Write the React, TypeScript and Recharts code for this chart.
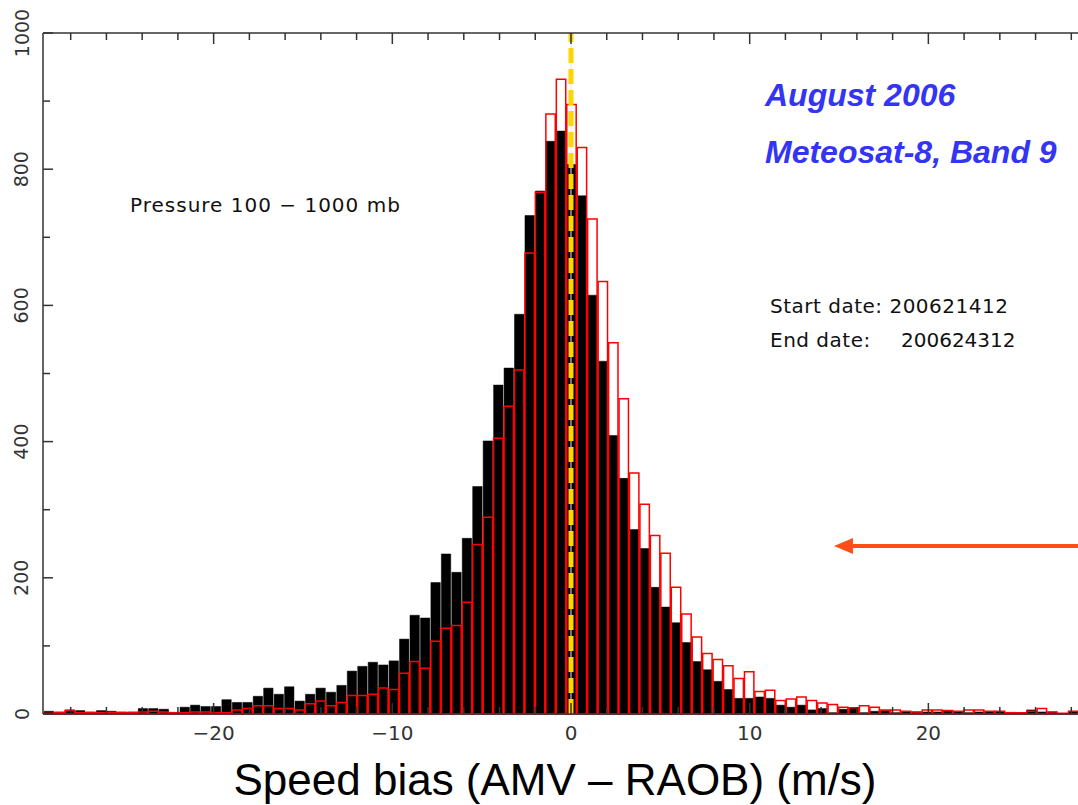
import React from 'react'
import { ComposedChart, Bar, XAxis, YAxis, ReferenceLine } from 'recharts'

// histogram bins: bin k is centred on k * binWidth, k = -50 .. 48
const binWidth = 0.585
const firstBin = -50

const blackCounts = [
  4, 3, 6, 5, 3, 5, 4, 3, 3, 8,
  8, 7, 2, 10, 13, 11, 11, 21, 17, 17,
  26, 38, 29, 40, 19, 29, 38, 32, 42, 63,
  70, 76, 72, 78, 110, 145, 141, 193, 235, 208,
  258, 334, 401, 483, 508, 587, 732, 768, 841, 856,
  807, 761, 615, 518, 409, 346, 271, 243, 186, 157,
  134, 105, 77, 65, 48, 36, 23, 23, 25, 23,
  13, 10, 13, 6, 8, 2, 7, 9, 2, 4,
  5, 2, 3, 3, 3, 3, 5, 3, 2, 3,
  3, 3, 1, 1, 6, 3, 3, 1, 3,
]

const redCounts = [
  1, 2, 5, 2, 2, 2, 2, 2, 2, 3,
  4, 3, 2, 2, 3, 3, 2, 2, 6, 8,
  12, 12, 8, 8, 6, 15, 19, 12, 17, 27,
  27, 29, 38, 36, 60, 77, 67, 107, 126, 130,
  164, 249, 289, 405, 452, 505, 677, 766, 881, 932,
  895, 832, 727, 635, 545, 463, 354, 308, 262, 236,
  186, 147, 113, 89, 80, 71, 52, 62, 33, 35,
  20, 22, 25, 20, 16, 14, 10, 9, 12, 10,
  6, 6, 4, 3, 6, 6, 5, 4, 6, 6,
  4, 4, 2, 2, 4, 8, 3, 1, 4,
]

const xTicks = [-28, -26, -24, -22, -20, -18, -16, -14, -12, -10, -8, -6, -4, -2, 0, 2, 4, 6, 8, 10, 12, 14, 16, 18, 20, 22, 24, 26, 28]
const xLabeled = [-20, -10, 0, 10, 20]
const yTicks = [0, 100, 200, 300, 400, 500, 600, 700, 800, 900, 1000]
const yLabeled = [0, 200, 400, 600, 800, 1000]

const data = blackCounts.map((v, i) => ({
  x: +((firstBin + i) * binWidth).toFixed(4),
  black: v,
  red: redCounts[i],
}))

const CHART_W = 1110
const CHART_H = 805
const MARGIN = { top: 32, right: 11, bottom: 0, left: 0 }
const Y_AXIS_W = 43
const xDomain = [-29.55, 29.55]
const plotW = CHART_W - MARGIN.left - MARGIN.right - Y_AXIS_W
const barPx = (binWidth * plotW) / (xDomain[1] - xDomain[0])

const AXIS = '#333'
const TICK_FONT = '"DejaVu Sans", sans-serif'
const ARIAL = '"Liberation Sans", Arial, sans-serif'

const fmt = (v: number) => (v < 0 ? `\u2212${-v}` : `${v}`)

function BottomTick(props: any) {
  const { x, y, payload } = props
  const major = xLabeled.includes(payload.value)
  return (
    <g>
      <line x1={x} x2={x} y1={y} y2={y - (major ? 11 : 7)} stroke={AXIS} strokeWidth={1.5} />
      {major && (
        <text x={x} y={y + 26} textAnchor="middle" fontFamily={TICK_FONT} fontSize={20} fill="#333">
          {fmt(payload.value)}
        </text>
      )}
    </g>
  )
}

function TopTick(props: any) {
  const { x, y, payload } = props
  const major = xLabeled.includes(payload.value)
  return <line x1={x} x2={x} y1={y} y2={y + (major ? 11 : 7)} stroke={AXIS} strokeWidth={1.5} />
}

function LeftTick(props: any) {
  const { x, y, payload } = props
  const major = yLabeled.includes(payload.value)
  const lx = x - 21.5
  return (
    <g>
      <line x1={x} x2={x + (major ? 10 : 7)} y1={y} y2={y} stroke={AXIS} strokeWidth={1.5} />
      {major && (
        <text
          x={lx}
          y={y}
          transform={`rotate(-90 ${lx} ${y})`}
          textAnchor="middle"
          dominantBaseline="central"
          fontFamily={TICK_FONT}
          fontSize={19}
          fill="#333"
        >
          {payload.value}
        </text>
      )}
    </g>
  )
}

export default function App() {
  return (
    <div style={{ position: 'absolute', left: 0, top: 0, width: 1078, height: 805, overflow: 'hidden', background: '#fff' }}>
      <ComposedChart width={CHART_W} height={CHART_H} data={data} margin={MARGIN} barCategoryGap={0} barGap={0}>
        <XAxis
          xAxisId="bottom"
          dataKey="x"
          type="number"
          domain={xDomain}
          allowDataOverflow
          ticks={xTicks}
          interval={0}
          height={CHART_H - 714}
          tickSize={0}
          tickMargin={0}
          tickLine={false}
          tick={BottomTick}
          axisLine={{ stroke: AXIS, strokeWidth: 1.5 }}
        />
        <XAxis
          xAxisId="top"
          orientation="top"
          dataKey="x"
          type="number"
          domain={xDomain}
          allowDataOverflow
          ticks={xTicks}
          interval={0}
          height={1}
          tickSize={0}
          tickMargin={0}
          tickLine={false}
          tick={TopTick}
          axisLine={{ stroke: AXIS, strokeWidth: 1.5 }}
        />
        <YAxis
          type="number"
          domain={[0, 1000]}
          ticks={yTicks}
          interval={0}
          width={Y_AXIS_W}
          tickSize={0}
          tickMargin={0}
          tickLine={false}
          tick={LeftTick}
          axisLine={{ stroke: AXIS, strokeWidth: 1.5 }}
        />
        <Bar xAxisId="bottom" dataKey="black" fill="#000" stroke="#000" strokeWidth={0.5} barSize={barPx} isAnimationActive={false} />
        <Bar xAxisId="top" dataKey="red" fill="none" stroke="#ff0000" strokeWidth={1.5} barSize={barPx} isAnimationActive={false} />
        <ReferenceLine xAxisId="bottom" x={0} stroke="#e6e6e6" strokeWidth={1} />
        <ReferenceLine xAxisId="bottom" x={0} stroke="#ffd400" strokeWidth={5} strokeDasharray="15 6" />
      </ComposedChart>

      <svg width={1078} height={805} style={{ position: 'absolute', left: 0, top: 0, pointerEvents: 'none' }}>
        <text x={130} y={212} fontFamily={TICK_FONT} fontSize={20} letterSpacing={1} fill="#111">
          Pressure 100 {'\u2212'} 1000 mb
        </text>
        <text x={770} y={313} fontFamily={TICK_FONT} fontSize={20} letterSpacing={0.5} fill="#111">
          Start date: 200621412
        </text>
        <text x={770} y={347} fontFamily={TICK_FONT} fontSize={20} letterSpacing={0.5} fill="#111">
          End date:
        </text>
        <text x={901} y={347} fontFamily={TICK_FONT} fontSize={20} fill="#111">
          200624312
        </text>
        <text x={765} y={106} fontFamily={ARIAL} fontWeight="bold" fontStyle="italic" fontSize={32} fill="#3434f4">
          August 2006
        </text>
        <text x={765} y={163} fontFamily={ARIAL} fontWeight="bold" fontStyle="italic" fontSize={32} fill="#3434f4">
          Meteosat-8, Band 9
        </text>
        <line x1={848} y1={546} x2={1078} y2={546} stroke="#ff4f14" strokeWidth={4} />
        <polygon points="834,546 853,538 853,554" fill="#ff4f14" />
        <text x={555} y={795} textAnchor="middle" fontFamily={ARIAL} fontSize={44} fill="#000">
          Speed bias (AMV – RAOB) (m/s)
        </text>
      </svg>
    </div>
  )
}
